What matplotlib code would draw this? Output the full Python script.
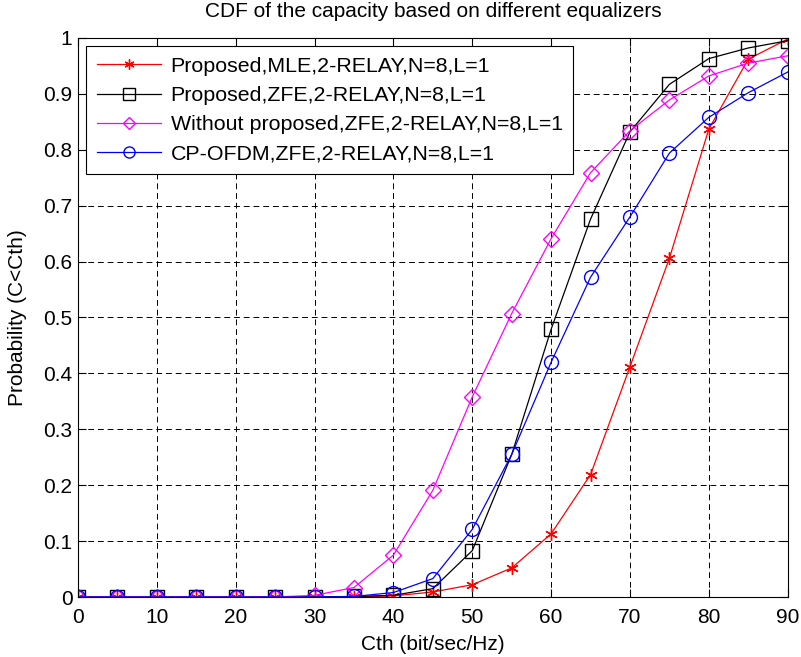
import matplotlib
matplotlib.use('Agg')
import matplotlib.pyplot as plt

plt.rcParams['font.family'] = ['Liberation Sans', 'DejaVu Sans']

cth = [0, 5, 10, 15, 20, 25, 30, 35, 40, 45, 50, 55, 60, 65, 70, 75, 80, 85, 90]

mle_relay = [0, 0, 0, 0, 0, 0, 0, 0, 0.002, 0.009, 0.022, 0.052, 0.113, 0.219,
             0.412, 0.606, 0.837, 0.962, 0.998]
zfe_relay = [0, 0, 0, 0, 0, 0, 0, 0.001, 0.003, 0.015, 0.083, 0.255, 0.479, 0.676,
             0.832, 0.917, 0.963, 0.982, 0.995]
zfe_without = [0, 0, 0, 0, 0, 0, 0.003, 0.017, 0.075, 0.191, 0.358, 0.507, 0.641,
               0.759, 0.834, 0.889, 0.932, 0.955, 0.968]
cp_ofdm = [0, 0, 0, 0, 0, 0, 0, 0.001, 0.008, 0.033, 0.121, 0.255, 0.42, 0.572,
           0.68, 0.794, 0.858, 0.902, 0.939]

labels = ['Proposed,MLE,2-RELAY,N=8,L=1',
          'Proposed,ZFE,2-RELAY,N=8,L=1',
          'Without proposed,ZFE,2-RELAY,N=8,L=1',
          'CP-OFDM,ZFE,2-RELAY,N=8,L=1']

fig = plt.figure(figsize=(8.01, 6.57), dpi=100)
ax = fig.add_axes([0.0974, 0.0913, 0.886, 0.851])

# asterisk marker like matlab's '*'
ax.plot(cth, mle_relay, color='red', marker=(6, 2, 0), markersize=9, mew=1.0,
        lw=0.9, label=labels[0])
ax.plot(cth, zfe_relay, color='black', marker='s', markersize=10, mfc='none',
        lw=0.9, label=labels[1])
ax.plot(cth, zfe_without, color='magenta', marker='D', markersize=8, mfc='none',
        lw=0.9, label=labels[2])
ax.plot(cth, cp_ofdm, color='blue', marker='o', markersize=10, mfc='none',
        lw=0.9, label=labels[3])

ax.set_xlim(0, 90)
ax.set_ylim(0, 1)
ax.set_xticks(range(0, 91, 10))
ax.set_yticks([i / 10 for i in range(11)])
ax.set_yticklabels(['0', '0.1', '0.2', '0.3', '0.4', '0.5', '0.6', '0.7', '0.8',
                    '0.9', '1'])
ax.tick_params(direction='in', labelsize=15, top=True, right=True, length=6)
ax.tick_params(axis='x', pad=8)
ax.tick_params(axis='y', pad=4)
ax.grid(True, linestyle=(0, (6, 4)), color='black', lw=0.7)
for s in ax.spines.values():
    s.set_linewidth(0.8)

ax.set_xlabel('Cth (bit/sec/Hz)', fontsize=15, labelpad=6)
ax.set_ylabel('Probability (C<Cth)', fontsize=15, labelpad=12)
ax.set_title('CDF of the capacity based on different equalizers', fontsize=15,
             pad=15)

leg = ax.legend(loc='upper left', fontsize=15.4, fancybox=False, framealpha=1,
                edgecolor='black', borderaxespad=0.38, handlelength=3.0,
                handletextpad=0.45, labelspacing=0.48, markerscale=0.8,
                borderpad=0.5)
leg.get_frame().set_linewidth(0.8)

fig.savefig('out.png', dpi=100)
